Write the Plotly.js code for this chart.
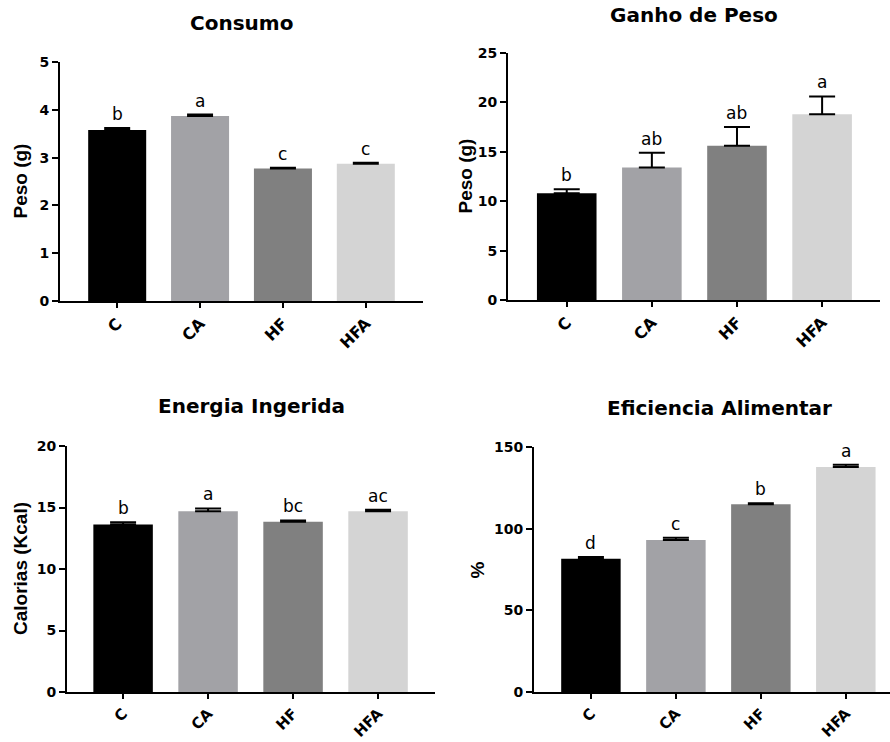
<!DOCTYPE html>
<html>
<head>
<meta charset="utf-8">
<script src="https://cdn.plot.ly/plotly-3.0.1.min.js"></script>
<style>html,body{margin:0;padding:0;background:#fff;}#chart{width:890px;height:742px;}</style>
</head>
<body>
<div id="chart"></div>
<script>
// ---- data ----
const categories = ['C', 'CA', 'HF', 'HFA'];
const barColors = ['#000000', '#a2a2a6', '#808080', '#d4d4d4'];

const consumo = [3.58, 3.87, 2.77, 2.87];
const consumoErr = [0.04, 0.03, 0.02, 0.02];
const consumoLetters = ['b', 'a', 'c', 'c'];

const ganho = [10.8, 13.4, 15.6, 18.8];
const ganhoErr = [0.4, 1.5, 1.9, 1.8];
const ganhoLetters = ['b', 'ab', 'ab', 'a'];

const energia = [13.62, 14.7, 13.85, 14.7];
const energiaErr = [0.18, 0.22, 0.1, 0.12];
const energiaLetters = ['b', 'a', 'bc', 'ac'];

const eficiencia = [81.6, 93.1, 114.9, 137.8];
const eficienciaErr = [1.0, 1.4, 0.6, 1.4];
const eficienciaLetters = ['d', 'c', 'b', 'a'];

const panels = [
  {title: 'Consumo', ytitle: 'Peso (g)', vals: consumo, errs: consumoErr, letters: consumoLetters, yrange: [0, 5], dtick: 1},
  {title: 'Ganho de Peso', ytitle: 'Peso (g)', vals: ganho, errs: ganhoErr, letters: ganhoLetters, yrange: [0, 25], dtick: 5},
  {title: 'Energia Ingerida', ytitle: 'Calorias (Kcal)', vals: energia, errs: energiaErr, letters: energiaLetters, yrange: [0, 20], dtick: 5},
  {title: 'Eficiencia Alimentar', ytitle: '%', vals: eficiencia, errs: eficienciaErr, letters: eficienciaLetters, yrange: [0, 150], dtick: 50}
];

// ---- layout geometry (pixels on the 890x742 page) ----
const W = 890, H = 742;
const geom = [
  {x0: 60, x1: 423, yTop: 62, yBot: 301, xr: [-0.69, 3.69], tx: 241, ty: 23, ytx: 20, xfs: 16},
  {x0: 508, x1: 880, yTop: 53, yBot: 300, xr: [-0.69, 3.68], tx: 694, ty: 15, ytx: 465, xfs: 16},
  {x0: 67, x1: 435, yTop: 446, yBot: 692, xr: [-0.66, 3.67], tx: 251, ty: 406, ytx: 20, xfs: 15},
  {x0: 534, x1: 890, yTop: 447, yBot: 692, xr: [-0.67, 3.52], tx: 719, ty: 408, ytx: 477, xfs: 15}
];

const tickFont = {family: 'DejaVu Sans', size: 14, color: '#000', weight: 'bold'};

const traces = [];
const annotations = [];
const layout = {
  width: W, height: H,
  margin: {l: 0, r: 0, t: 0, b: 0},
  paper_bgcolor: '#fff', plot_bgcolor: '#fff',
  showlegend: false,
  font: {family: 'DejaVu Sans', color: '#000'}
};

panels.forEach((p, i) => {
  const g = geom[i];
  const n = i + 1;
  const xa = n === 1 ? 'xaxis' : 'xaxis' + n;
  const ya = n === 1 ? 'yaxis' : 'yaxis' + n;
  const xr = n === 1 ? 'x' : 'x' + n;
  const yr = n === 1 ? 'y' : 'y' + n;

  traces.push({
    type: 'bar',
    x: categories, y: p.vals,
    xaxis: xr, yaxis: yr,
    width: 0.7,
    marker: {color: barColors, line: {width: 0}},
    error_y: {type: 'data', symmetric: false, array: p.errs, arrayminus: p.errs.map(() => 0),
              color: '#000', thickness: 2, width: 13, visible: true},
    hoverinfo: 'x+y'
  });

  layout[xa] = {
    domain: [g.x0 / W, g.x1 / W],
    anchor: yr,
    range: g.xr,
    type: 'category',
    showline: true, linecolor: '#000', linewidth: 2,
    ticks: 'outside', ticklen: 5, tickwidth: 2, tickcolor: '#000',
    tickangle: -45, tickfont: {family: 'DejaVu Sans', size: g.xfs, color: '#000', weight: 'bold'},
    showgrid: false, zeroline: false, fixedrange: true
  };
  layout[ya] = {
    domain: [1 - g.yBot / H, 1 - g.yTop / H],
    anchor: xr,
    range: p.yrange, dtick: p.dtick, tick0: 0,
    showline: true, linecolor: '#000', linewidth: 2,
    ticks: 'outside', ticklen: 6, tickwidth: 2, tickcolor: '#000',
    tickfont: tickFont,
    showgrid: false, zeroline: false, fixedrange: true
  };

  // panel title
  annotations.push({
    xref: 'paper', yref: 'paper', x: g.tx / W, y: 1 - g.ty / H,
    xanchor: 'center', yanchor: 'middle', showarrow: false,
    text: p.title, font: {family: 'DejaVu Sans', size: 20, weight: 'bold', color: '#000'}
  });
  // y axis title
  annotations.push({
    xref: 'paper', yref: 'paper', x: g.ytx / W, y: 1 - (g.yTop + g.yBot) / 2 / H,
    xanchor: 'center', yanchor: 'middle', showarrow: false, textangle: -90,
    text: p.ytitle, font: {family: 'Liberation Sans', size: 19, weight: 'bold', color: '#000'}
  });
  // significance letters
  categories.forEach((c, k) => {
    annotations.push({
      xref: xr, yref: yr, x: c, y: p.vals[k] + p.errs[k],
      xanchor: 'center', yanchor: 'bottom', yshift: 2, showarrow: false,
      text: p.letters[k], font: {family: 'DejaVu Sans', size: 17, color: '#000'}
    });
  });
});

layout.annotations = annotations;

Plotly.newPlot('chart', traces, layout, {displayModeBar: false, staticPlot: true});
</script>
</body>
</html>
